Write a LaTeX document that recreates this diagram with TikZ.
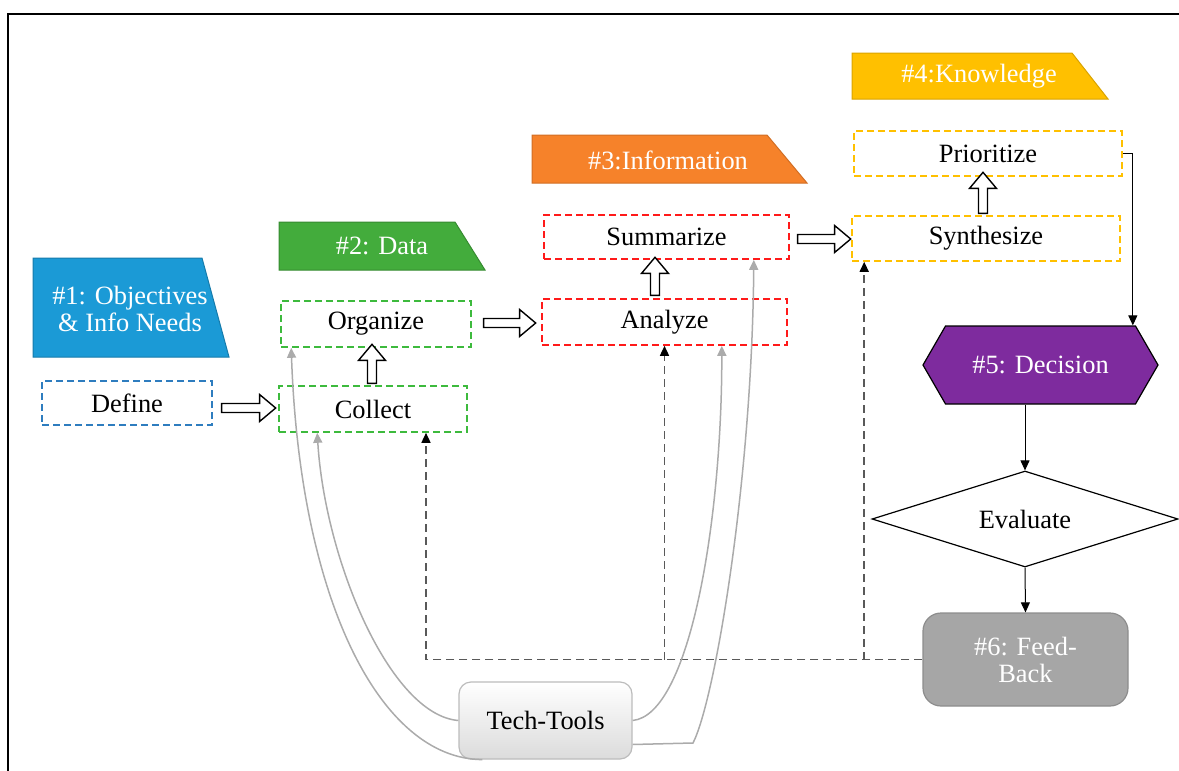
\documentclass[tikz,border=0pt]{standalone}
\usepackage{fontspec}
\setmainfont{Liberation Serif}
\usetikzlibrary{arrows.meta,positioning,shapes.geometric,shapes.arrows,shapes.symbols,calc}
\definecolor{objblue}{HTML}{1B9AD6}
\definecolor{defblue}{HTML}{2E7DBF}
\definecolor{databox}{HTML}{3DBA3D}
\definecolor{datagreen}{HTML}{43AC3C}
\definecolor{infored}{HTML}{FF1A1A}
\definecolor{infoorange}{HTML}{F6822A}
\definecolor{knowgold}{HTML}{FFC000}
\definecolor{decpurple}{HTML}{7E2B9E}
\definecolor{fbgray}{HTML}{A6A6A6}
\definecolor{fbline}{HTML}{595959}
\definecolor{toolgray}{HTML}{ABABAB}

\begin{document}
\begin{tikzpicture}[x=0.5pt,y=-0.5pt,
  every node/.style={font=\fontsize{13.2}{13.5}\selectfont},
  stepbox/.style={rectangle,line width=0.8pt,dash pattern=on 3.5pt off 2pt,minimum height=23pt,inner sep=0pt},
  blk/.style={single arrow,draw,fill=white,line width=0.7pt,minimum width=13.5pt,single arrow head extend=0.7pt,single arrow tip angle=80,inner sep=0pt},
  banner/.style={line width=0.5pt},
  btxt/.style={text=white,align=center},
  link/.style={line width=0.5pt,-{Triangle[length=5pt,width=4.5pt]}},
  fbk/.style={draw=fbline,line width=0.75pt,dash pattern=on 4pt off 2.5pt,-{Triangle[length=5pt,width=4.5pt,black]}},
  tool/.style={draw=toolgray,line width=0.75pt,-{Triangle[length=5pt,width=4.5pt]}}]
  \useasboundingbox (0,0) rectangle (1179,771);
  \draw[line width=1pt] (8,771) -- (8,14) -- (1179,14);

  \filldraw[banner,fill=objblue,draw=objblue!80!black] (33,258) -- (202,258) -- (229,357) -- (33,357) -- cycle;
  \node[btxt] (b1) at (130,309) {\#1: Objectives\\\& Info Needs};
  \filldraw[banner,fill=datagreen,draw=datagreen!80!black] (279,222) -- (455,222) -- (485,270) -- (279,270) -- cycle;
  \node[btxt] (b2) at (382,246) {\#2: Data};
  \filldraw[banner,fill=infoorange,draw=infoorange!85!black] (532,135) -- (767,135) -- (807,183) -- (532,183) -- cycle;
  \node[btxt] (b3) at (668,160) {\#3:Information};
  \filldraw[banner,fill=knowgold,draw=knowgold!85!black] (852,53) -- (1072,53) -- (1108,99) -- (852,99) -- cycle;
  \node[btxt] (b4) at (979,76) {\#4:Knowledge};

  \node[stepbox,draw=defblue,minimum width=85pt,minimum height=22pt] (def) at (127,403) {Define};
  \node[stepbox,draw=databox,minimum width=94pt] (col) at (373,409) {Collect};
  \node[stepbox,draw=databox,minimum width=95pt] (org) at (376,324) {Organize};
  \node[stepbox,draw=infored,minimum width=122.5pt] (ana) at (664.5,322) {Analyze};
  \node[stepbox,draw=infored,minimum width=122.5pt,minimum height=22pt] (sum) at (666.5,237) {Summarize};
  \node[stepbox,draw=knowgold,minimum width=134pt,minimum height=22.5pt] (syn) at (986,238.5) {Synthesize};
  \node[stepbox,draw=knowgold,minimum width=134pt,minimum height=22.5pt] (pri) at (988,153.5) {Prioritize};

  \node[blk,minimum height=27pt] (a1) at (246,408) {};
  \node[blk,minimum height=19.5pt,rotate=90] (a2) at (372,366.5) {};
  \node[blk,minimum height=26pt] (a3) at (507,323) {};
  \node[blk,minimum height=19pt,rotate=90] (a4) at (655,279) {};
  \node[blk,minimum height=26.5pt] (a5) at (821.5,239) {};
  \node[blk,minimum height=20.5pt,rotate=90] (a6) at (983,195.5) {};

  \node[signal,signal to=east and west,signal pointer angle=120,fill=decpurple,draw=black,line width=0.6pt,text=white,minimum width=117.5pt,minimum height=39pt,inner sep=0pt] (dec) at (1040.5,365) {\#5: Decision};
  \node[diamond,draw,line width=0.6pt,aspect=3.2,minimum width=153pt,minimum height=48pt,inner sep=0pt] (eva) at (1025,519) {Evaluate};
  \node[rounded corners=9pt,fill=fbgray,draw=fbgray!85!black,line width=0.6pt,text=white,align=center,minimum width=102.5pt,minimum height=46.5pt] (fb) at (1025.5,659.5) {\#6: Feed-\\Back};
  \node[rounded corners=6pt,draw=toolgray!80,line width=0.6pt,top color=white,bottom color=black!14,minimum width=86.5pt,minimum height=38.5pt] (tt) at (545.5,720.5) {Tech-Tools};

  \draw[link] (pri.east) -| ([xshift=-1.5pt]dec.north east);
  \draw[link] (dec.south -| eva.north) -- (eva.north);
  \draw[link] (eva.south) -- (fb.north);

  \coordinate (fc) at ([xshift=26.5pt]col.south);
  \coordinate (fs) at ([xshift=6.5pt]syn.south west);
  \draw[fbk] (fb.west) -| (fc);
  \draw[fbk] (ana.south |- fb.west) -- (ana.south);
  \draw[fbk] (fs |- fb.west) -- (fs);

  \draw[tool] (tt.west) .. controls (390,715) and (325,560) .. ([xshift=19.5pt]col.south west);
  \draw[tool] ([xshift=12pt]tt.south west) .. controls (380,759) and (300,600) .. ([xshift=5.5pt]org.south west);
  \draw[tool] (tt.east) .. controls (690,715) and (722,520) .. ([xshift=-33pt]ana.south east);
  \draw[tool] ([yshift=-12pt]tt.east) -- (693,743) .. controls (715,700) and (752,480) .. ([xshift=-18pt]sum.south east);
\end{tikzpicture}
\end{document}
